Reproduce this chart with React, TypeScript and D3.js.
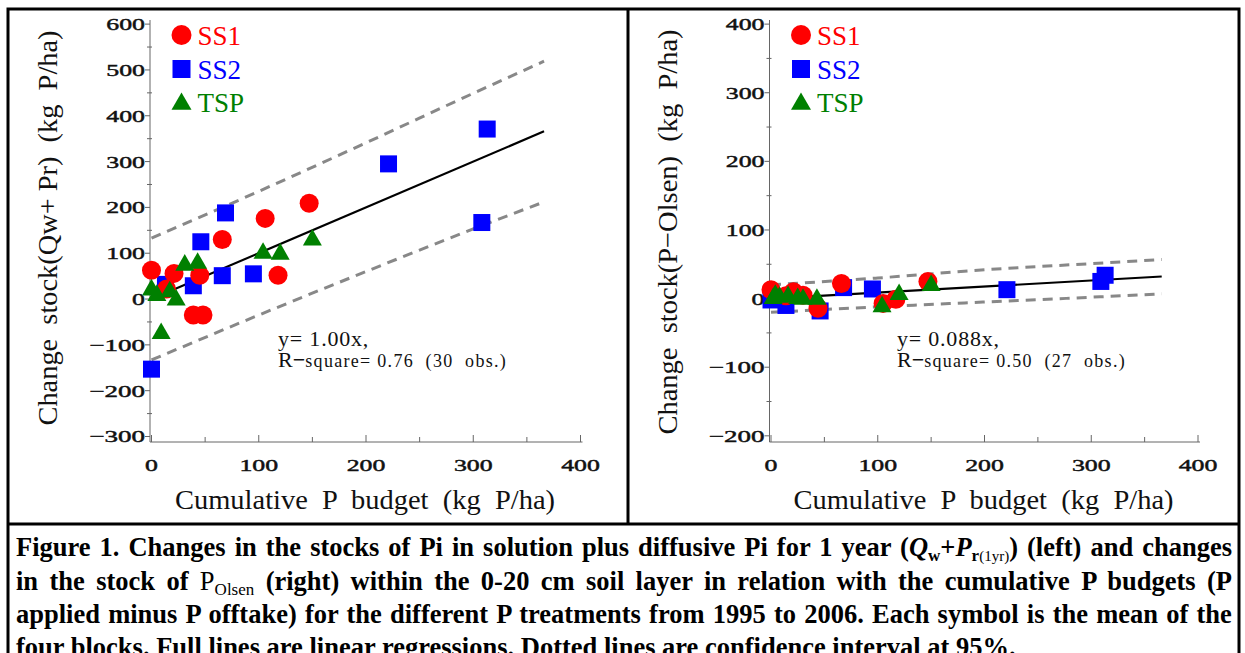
import React, { useEffect, useRef } from 'react';
import * as d3 from 'd3';

// ---- left panel: change in stock Qw + Pr ----
const ss1LeftX = [0, 14, 21, 39, 48, 45, 66, 106, 118, 147];
const ss1LeftY = [63, 22, 56, -35, -35, 52, 130, 176, 52, 209];
const ss2LeftX = [0, 13, 39, 46, 66, 69, 95, 221, 308, 313];
const ss2LeftY = [-153, 32, 29, 125, 51, 188, 55, 295, 167, 371];
const tspLeftX = [0, 5, 9, 17, 23, 31, 43, 104, 120, 150];
const tspLeftY = [20, 8, -75, 16, -2, 74, 78, 100, 98, 129];
const bandX = [0, 100, 200, 300, 366];
const leftUpper = [133, 235, 341, 449, 519];
const leftLower = [-133, -35, 60, 153, 212];
const leftSlope = 1.0;

// ---- right panel: change in stock P-Olsen ----
const ss1RightX = [0, 14, 21, 30, 44, 66, 105, 117, 147];
const ss1RightY = [13, 4, 10, 5, -14, 22, -7, -1, 25];
const ss2RightX = [0, 14, 46, 68, 95, 221, 309, 313];
const ss2RightY = [-2, -10, -18, 16, 14, 13, 25, 34];
const tspRightX = [2, 4, 8, 16, 25, 30, 43, 104, 120, 150];
const tspRightY = [0, 5, 2, 3, 0, -1, -1, -12, 6, 19];
const rightUpper = [20, 30, 42, 51, 57];
const rightLower = [-20, -12, -5, 2, 7];
const rightSlope = 0.088;

const regEnd = 366;
const xTicks = [0, 100, 200, 300, 400];
const xMinor = [50, 150, 250, 350];
const leftYTicks = [-300, -200, -100, 0, 100, 200, 300, 400, 500, 600];
const leftYMinor = [-250, -150, -50, 50, 150, 250, 350, 450, 550];
const rightYTicks = [-200, -100, 0, 100, 200, 300, 400];
const rightYMinor = [-150, -50, 50, 150, 250, 350];

const RED = '#ff0000';
const BLUE = '#0000ff';
const GREEN = '#008000';
const FONT = 'Liberation Serif, Times New Roman, serif';

const fmt = (v: number) => (v < 0 ? '\u2212' + Math.abs(v) : String(v));
// the reference uses wide figures: stretch tick labels to that width
const tickLen = (s: string) => s.replace('\u2212', '').length * 12.9 + (s.startsWith('\u2212') ? 17 : 0);

const tri = (cx: number, cy: number, s: number) => {
  const h = s * 0.87;
  return `M${cx},${cy - (2 * h) / 3}L${cx + s / 2},${cy + h / 3}L${cx - s / 2},${cy + h / 3}Z`;
};

type PanelProps = {
  xRange: [number, number];
  yDomain: [number, number];
  yTicks: number[];
  yMinor: number[];
  ss1: [number[], number[]];
  ss2: [number[], number[]];
  tsp: [number[], number[]];
  upper: number[];
  lower: number[];
  slope: number;
  eq: string;
  r2: string;
  yTitle: string;
  yTitleX: number;
  yTitleY: number;
  yTitleLen: number;
};

const Panel = (p: PanelProps) => {
  const x = d3.scaleLinear().domain([0, 400]).range(p.xRange);
  const y = d3.scaleLinear().domain(p.yDomain).range([442, 20]);
  const axisX = x(0) - 1.5;
  const band = d3.line<[number, number]>().x(d => x(d[0])).y(d => y(d[1])).curve(d3.curveMonotoneX);
  const up = band(bandX.map((v, i) => [v, p.upper[i]]) as [number, number][]) || '';
  const lo = band(bandX.map((v, i) => [v, p.lower[i]]) as [number, number][]) || '';
  const reg = d3.line<[number, number]>().x(d => x(d[0])).y(d => y(d[1]))([
    [0, 0],
    [regEnd, regEnd * p.slope],
  ]) || '';
  const lx = x(0) + 30;
  const xMid = (p.xRange[0] + p.xRange[1]) / 2 - 1;
  const annX = x(118);

  return (
    <g style={{ fontFamily: FONT }}>
      {/* axes */}
      <line x1={axisX} x2={axisX} y1={20} y2={442} stroke="#666" />
      <line x1={axisX} x2={p.xRange[1] + 2} y1={442} y2={442} stroke="#666" />
      {p.yTicks.map(t => (
        <g key={'yt' + t}>
          <line x1={axisX - 5} x2={axisX} y1={y(t)} y2={y(t)} stroke="#666" />
          <text
            x={axisX - 5 - tickLen(fmt(t))}
            y={y(t)}
            dy="0.35em"
            fontSize={17}
            textLength={tickLen(fmt(t))}
            lengthAdjust="spacingAndGlyphs"
            fill="#111"
            stroke="#111"
            strokeWidth={0.45}
          >
            {fmt(t)}
          </text>
        </g>
      ))}
      {p.yMinor.map(t => (
        <line key={'ym' + t} x1={axisX - 3} x2={axisX + 2} y1={y(t)} y2={y(t)} stroke="#666" />
      ))}
      {xTicks.map(t => (
        <g key={'xt' + t}>
          <line x1={x(t)} x2={x(t)} y1={442} y2={435} stroke="#666" />
          <text
            x={x(t) - tickLen(String(t)) / 2}
            y={471}
            fontSize={17}
            textLength={tickLen(String(t))}
            lengthAdjust="spacingAndGlyphs"
            fill="#111"
            stroke="#111"
            strokeWidth={0.45}
          >
            {t}
          </text>
        </g>
      ))}
      {xMinor.map(t => (
        <line key={'xm' + t} x1={x(t)} x2={x(t)} y1={442} y2={437} stroke="#666" />
      ))}

      {/* confidence bands and regression */}
      <path d={up} fill="none" stroke="#888" strokeWidth={3} strokeDasharray="10,7" />
      <path d={lo} fill="none" stroke="#888" strokeWidth={3} strokeDasharray="10,7" />
      <path d={reg} fill="none" stroke="#000" strokeWidth={2.2} />

      {/* points */}
      {p.ss2[0].map((v, i) => (
        <rect key={'s2' + i} x={x(v) - 8.5} y={y(p.ss2[1][i]) - 8.5} width={17} height={17} fill={BLUE} />
      ))}
      {p.ss1[0].map((v, i) => (
        <circle key={'s1' + i} cx={x(v)} cy={y(p.ss1[1][i])} r={9.5} fill={RED} />
      ))}
      {p.tsp[0].map((v, i) => (
        <path key={'ts' + i} d={tri(x(v), y(p.tsp[1][i]), 19)} fill={GREEN} />
      ))}

      {/* legend */}
      <circle cx={lx} cy={35} r={10} fill={RED} />
      <text x={lx + 16} y={45} fontSize={27} fill={RED}>SS1</text>
      <rect x={lx - 9} y={60} width={18} height={18} fill={BLUE} />
      <text x={lx + 16} y={79} fontSize={27} fill={BLUE}>SS2</text>
      <path d={tri(lx, 104, 20)} fill={GREEN} />
      <text x={lx + 16} y={112} fontSize={27} fill={GREEN}>TSP</text>

      {/* annotation */}
      <text x={annX} y={346} fontSize={22} letterSpacing={0.8} fill="#111">{p.eq}</text>
      <text x={annX} y={367} fill="#111" style={{ whiteSpace: 'pre' }}>
        <tspan fontSize={22}>R</tspan>
        <tspan fontSize={22} fontWeight="bold">{'\u2212'}</tspan>
        <tspan fontSize={18} letterSpacing={1.3}>{p.r2}</tspan>
      </text>

      {/* titles */}
      <text
        x={xMid}
        y={509}
        textAnchor="middle"
        fontSize={28}
        fill="#111"
        textLength={380}
        lengthAdjust="spacingAndGlyphs"
        style={{ whiteSpace: 'pre' }}
      >
        {'Cumulative  P  budget  (kg  P/ha)'}
      </text>
      <text
        transform={`translate(${p.yTitleX},${p.yTitleY}) rotate(-90)`}
        textAnchor="middle"
        fontSize={28}
        fill="#111"
        textLength={p.yTitleLen}
        lengthAdjust="spacingAndGlyphs"
        style={{ whiteSpace: 'pre' }}
      >
        {p.yTitle}
      </text>
    </g>
  );
};

const CAP_LEFT = 16;
const CAP_RIGHT = 1232;
const capBaselines = [556, 590, 623, 656];

const App = () => {
  const capRefs = useRef<(SVGTextElement | null)[]>([]);

  useEffect(() => {
    capRefs.current.forEach((el, i) => {
      if (!el || i === 3) return;
      el.style.wordSpacing = '0px';
      const w = el.getBBox().width;
      const spaces = (el.textContent || '').split(' ').length - 1;
      if (spaces > 0) el.style.wordSpacing = `${(CAP_RIGHT - CAP_LEFT - w) / spaces}px`;
    });
  }, []);

  const capStyle = { fontFamily: 'Liberation Serif, Times New Roman, serif', fontWeight: 700, fontSize: 26.5 };

  return (
    <svg width={1245} height={653} style={{ position: 'absolute', left: 0, top: 0, background: '#fff' }}>
      <rect x={0} y={0} width={1245} height={653} fill="#fff" />
      <Panel
        xRange={[151.5, 580.5]}
        yDomain={[-312, 609]}
        yTicks={leftYTicks}
        yMinor={leftYMinor}
        ss1={[ss1LeftX, ss1LeftY]}
        ss2={[ss2LeftX, ss2LeftY]}
        tsp={[tspLeftX, tspLeftY]}
        upper={leftUpper}
        lower={leftLower}
        slope={leftSlope}
        eq="y= 1.00x,"
        r2="square= 0.76  (30  obs.)"
        yTitle={'Change  stock(Qw+ Pr)  (kg  P/ha)'}
        yTitleX={57}
        yTitleY={228}
        yTitleLen={395}
      />
      <Panel
        xRange={[771, 1198]}
        yDomain={[-209, 406]}
        yTicks={rightYTicks}
        yMinor={rightYMinor}
        ss1={[ss1RightX, ss1RightY]}
        ss2={[ss2RightX, ss2RightY]}
        tsp={[tspRightX, tspRightY]}
        upper={rightUpper}
        lower={rightLower}
        slope={rightSlope}
        eq="y= 0.088x,"
        r2="square= 0.50  (27  obs.)"
        yTitle={'Change  stock(P\u2212Olsen)  (kg  P/ha)'}
        yTitleX={677}
        yTitleY={232}
        yTitleLen={405}
      />

      {/* frame */}
      <rect x={8} y={9} width={1231} height={660} fill="none" stroke="#000" strokeWidth={3} />
      <line x1={628} x2={628} y1={9} y2={524} stroke="#000" strokeWidth={3} />
      <line x1={8} x2={1239} y1={524} y2={524} stroke="#000" strokeWidth={3} />

      {/* caption */}
      <g style={capStyle} fill="#000">
        <text ref={el => { capRefs.current[0] = el; }} x={CAP_LEFT} y={capBaselines[0]} style={{ whiteSpace: 'pre' }}>
          {'Figure 1. Changes in the stocks of Pi in solution plus diffusive Pi for 1 year ('}
          <tspan fontStyle="italic">Q</tspan>
          <tspan fontSize={17} dy={5}>w</tspan>
          <tspan dy={-5}>+</tspan>
          <tspan fontStyle="italic">P</tspan>
          <tspan fontSize={17} dy={5}>r</tspan>
          <tspan fontSize={15} fontWeight={400}>(1yr)</tspan>
          <tspan dy={-5}>{') (left) and changes'}</tspan>
        </text>
        <text ref={el => { capRefs.current[1] = el; }} x={CAP_LEFT} y={capBaselines[1]} style={{ whiteSpace: 'pre' }}>
          {'in the stock of '}
          <tspan fontWeight={400}>P</tspan>
          <tspan fontWeight={400} fontSize={17} dy={5}>Olsen</tspan>
          <tspan dy={-5}>{' (right) within the 0-20 cm soil layer in relation with the cumulative P budgets (P'}</tspan>
        </text>
        <text ref={el => { capRefs.current[2] = el; }} x={CAP_LEFT} y={capBaselines[2]} style={{ whiteSpace: 'pre' }}>
          {'applied minus P offtake) for the different P treatments from 1995 to 2006. Each symbol is the mean of the'}
        </text>
        <text ref={el => { capRefs.current[3] = el; }} x={CAP_LEFT} y={capBaselines[3]} style={{ whiteSpace: 'pre' }}>
          {'four blocks. Full lines are linear regressions. Dotted lines are confidence interval at 95%.'}
        </text>
      </g>
    </svg>
  );
};

export default App;
